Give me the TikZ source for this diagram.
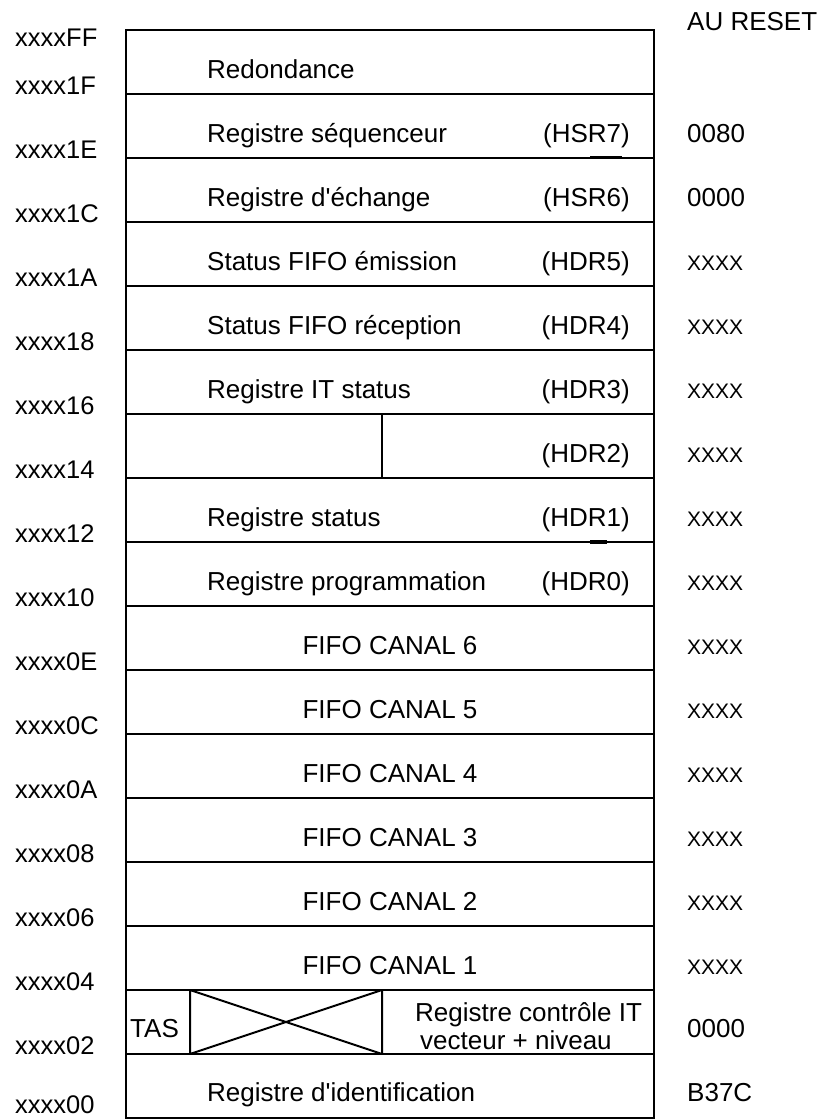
\documentclass[tikz,border=0pt]{standalone}
\usepackage{fontspec}
\setmainfont{Liberation Sans}[Ligatures=TeXOff]
\begin{document}
\begin{tikzpicture}[x=1pt,y=-1pt,
  frame/.style={line width=2pt},
  tick/.style={line width=3.5pt},
  txt/.style={anchor=base west,inner sep=0pt,font=\fontsize{26}{30}\selectfont},
  ctxt/.style={anchor=base,inner sep=0pt,font=\fontsize{26}{30}\selectfont},
  rtxt/.style={anchor=base east,inner sep=0pt,font=\fontsize{26}{30}\selectfont},
  addr/.style={anchor=base west,inner sep=0pt,font=\fontsize{25.5}{30}\selectfont},
  xrst/.style={anchor=base west,inner sep=0pt,font=\fontsize{21}{25}\selectfont}]
\useasboundingbox (0,0) rectangle (825,1119);
% frame and rows
\coordinate (TL) at (126,30);
\coordinate (BR) at (654,1118);
\draw[frame] (TL) rectangle (BR);
\foreach \k in {1,...,16} \draw[frame] (126,30+64*\k) -- (654,30+64*\k);
% small marks
\draw[tick] (590,157.5) -- (622,157.5);
\draw[tick] (590,542) -- (607,542);
% HDR2 divider
\coordinate (d1) at (382,414);
\coordinate (d2) at (382,478);
\draw[frame] (d1) -- (d2);
% TAS cross box
\coordinate (c1) at (190,990);
\coordinate (c2) at (382,990);
\coordinate (c3) at (190,1054);
\coordinate (c4) at (382,1054);
\draw[frame] (c1) -- (c3) (c2) -- (c4) (c1) -- (c4) (c3) -- (c2);
% addresses
\node[addr] (aFF) at (15,46) {xxxxFF};
\foreach \lab [count=\k] in {1F,1E,1C,1A,18,16,14,12,10,0E,0C,0A,08,06,04}
  \node[addr] (a\k) at (15,30+64*\k) {xxxx\lab};
\node[addr] (a16) at (15,1054) {xxxx02};
\node[addr] (a17) at (15,1113) {xxxx00};
% header
\node[txt] (hdr) at (687,30) {AU RESET};
% rows
\node[txt] (r0) at (207,78) {Redondance};
\node[txt] (r1) at (207,142) {Registre séquenceur};
\node[rtxt] (h1) at (630,142) {(HSR7)};
\node[txt] (v1) at (687,142) {0080};
\node[txt] (r2) at (207,206) {Registre d'échange};
\node[rtxt] (h2) at (630,206) {(HSR6)};
\node[txt] (v2) at (687,206) {0000};
\node[txt] (r3) at (207,270) {Status FIFO émission};
\node[rtxt] (h3) at (630,270) {(HDR5)};
\node[xrst] (v3) at (687,270) {XXXX};
\node[txt] (r4) at (207,334) {Status FIFO réception};
\node[rtxt] (h4) at (630,334) {(HDR4)};
\node[xrst] (v4) at (687,334) {XXXX};
\node[txt] (r5) at (207,398) {Registre IT status};
\node[rtxt] (h5) at (630,398) {(HDR3)};
\node[xrst] (v5) at (687,398) {XXXX};
\node[rtxt] (h6) at (630,462) {(HDR2)};
\node[xrst] (v6) at (687,462) {XXXX};
\node[txt] (r7) at (207,526) {Registre status};
\node[rtxt] (h7) at (630,526) {(HDR1)};
\node[xrst] (v7) at (687,526) {XXXX};
\node[txt] (r8) at (207,590) {Registre programmation};
\node[rtxt] (h8) at (630,590) {(HDR0)};
\node[xrst] (v8) at (687,590) {XXXX};
\foreach \n [count=\i from 9] in {6,5,4,3,2,1} {
  \node[ctxt] (r\i) at (390,30+64*\i+48) {FIFO CANAL \n};
  \node[xrst] (v\i) at (687,30+64*\i+48) {XXXX};
}
\node[txt] (tas) at (130,1037) {TAS};
\node[txt] (r15a) at (415,1021) {Registre contrôle IT};
\node[txt] (r15b) at (420,1049) {vecteur + niveau};
\node[txt] (v15) at (687,1037) {0000};
\node[txt] (r16) at (207,1101) {Registre d'identification};
\node[txt] (v16) at (687,1101) {B37C};
\end{tikzpicture}
\end{document}
